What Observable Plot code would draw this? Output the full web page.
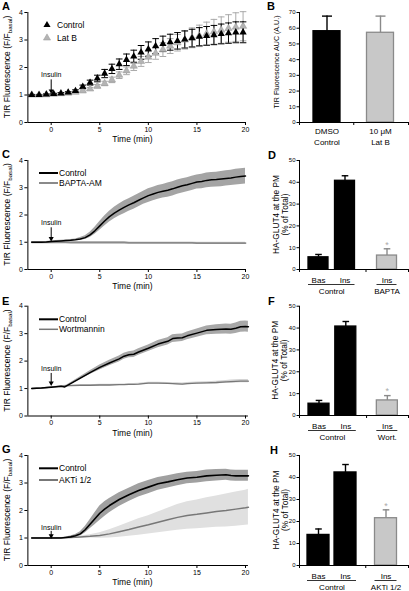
<!DOCTYPE html>
<html><head><meta charset="utf-8">
<script src="https://cdn.jsdelivr.net/npm/d3@7"></script>
<script src="https://cdn.jsdelivr.net/npm/@observablehq/plot@0.6"></script>
<style>
html,body{margin:0;padding:0;background:#fff;}
#fig{position:relative;width:409px;height:591px;overflow:hidden;font-family:"Liberation Sans",Arial,sans-serif;}
#fig svg{position:absolute;overflow:visible;}
.letter{position:absolute;font:bold 11px "Liberation Sans",Arial,sans-serif;line-height:11px;}
</style></head><body><div id="fig"></div>
<script>
// ---------- DATA ----------
// Panel A: Control vs Lat B (triangles with SE bars)
const aTime = [-2,-1.25,-0.5,0.25,1,1.75,2.5,3.25,4,4.75,5.5,6.25,7,7.75,8.5,9.25,10,10.75,11.5,12.25,13,13.75,14.5,15.25,16,16.75,17.5,18.25,19,19.75];
const aControl = [1.0,1.0,1.02,1.04,1.06,1.09,1.15,1.3,1.45,1.6,1.78,1.95,2.12,2.28,2.4,2.55,2.67,2.78,2.86,2.92,2.97,3.02,3.07,3.12,3.15,3.18,3.22,3.25,3.28,3.28];
const aControlSE = [0.02,0.02,0.02,0.02,0.03,0.03,0.04,0.06,0.09,0.12,0.15,0.17,0.19,0.21,0.23,0.25,0.26,0.27,0.28,0.29,0.3,0.31,0.32,0.33,0.34,0.35,0.36,0.37,0.38,0.38];
const aLatB = [1.0,1.0,1.01,1.03,1.05,1.07,1.1,1.15,1.22,1.32,1.42,1.55,1.72,1.88,2.05,2.22,2.38,2.52,2.65,2.78,2.9,3.0,3.08,3.15,3.23,3.3,3.36,3.42,3.47,3.5];
const aLatBSE = [0.02,0.02,0.02,0.02,0.03,0.03,0.04,0.04,0.05,0.06,0.08,0.1,0.12,0.14,0.16,0.18,0.2,0.22,0.25,0.27,0.3,0.33,0.36,0.39,0.42,0.45,0.48,0.5,0.52,0.53];

// Panel B: AUC
const bLabels = ["DMSO\nControl", "10 \u03bcM\nLat B"];
const bGroups = ["Control", "Lat B"];
const bValues = [58.1, 57.1];
const bErr = [9.6, 10.6];
const bStars = [false, false];
const bTicks = [0,10,20,30,40,50,60,70];

// Panel C: Control vs BAPTA-AM
const cTime = [-2,-1.5,-1,-0.5,0,0.5,1,1.5,2,2.5,3,3.5,4,4.5,5,5.5,6,6.5,7,7.5,8,8.5,9,9.5,10,10.5,11,11.5,12,12.5,13,13.5,14,14.5,15,15.5,16,16.5,17,17.5,18,18.5,19,19.5,20];
const cControl = [1.0,1.0,1.0,1.01,1.03,1.04,1.05,1.06,1.07,1.09,1.12,1.17,1.27,1.42,1.6,1.78,1.94,2.07,2.18,2.28,2.37,2.45,2.54,2.63,2.71,2.77,2.83,2.87,2.91,2.96,3.02,3.07,3.11,3.16,3.21,3.23,3.27,3.29,3.30,3.32,3.34,3.36,3.39,3.41,3.43];
const cControlSE = [0.02,0.02,0.02,0.02,0.02,0.02,0.02,0.02,0.03,0.03,0.05,0.07,0.1,0.13,0.16,0.18,0.2,0.21,0.22,0.23,0.23,0.24,0.24,0.24,0.25,0.25,0.25,0.25,0.26,0.26,0.26,0.26,0.26,0.26,0.26,0.27,0.27,0.27,0.27,0.28,0.28,0.28,0.29,0.29,0.29];
const cBapta = [1.0,1.0,1.0,1.0,1.0,1.0,1.0,1.0,0.99,0.99,0.99,0.99,0.99,0.99,0.99,0.99,0.99,0.99,0.99,0.99,0.98,0.98,0.98,0.98,0.98,0.98,0.98,0.98,0.98,0.98,0.98,0.98,0.98,0.98,0.97,0.97,0.97,0.97,0.97,0.97,0.97,0.97,0.97,0.97,0.97];
const cBaptaSE = [0.02,0.02,0.02,0.02,0.02,0.02,0.02,0.03,0.03,0.03,0.03,0.03,0.03,0.03,0.03,0.03,0.03,0.03,0.03,0.03,0.03,0.03,0.03,0.03,0.03,0.03,0.03,0.03,0.03,0.03,0.03,0.03,0.03,0.03,0.03,0.03,0.03,0.03,0.03,0.03,0.03,0.03,0.03,0.03,0.03];

// Panel D
const dLabels = ["Bas","Ins","Ins"];
const dGroups = ["Control","Control","BAPTA"];
const dValues = [5.6, 40.7, 6.4];
const dErr = [1.3, 2.3, 3.1];
const dStars = [false, false, true];
const pctTicks = [0,10,20,30,40,50];

// Panel E: Control vs Wortmannin
const eTime = [-2,-1,0,1,1.4,2,3,4,5,6,7,7.5,8,8.5,9,10,11,12,12.5,13,13.5,14,15,16,17,18,18.5,19,19.5,20,20.3];
const eControl = [1.0,1.02,1.05,1.08,1.06,1.18,1.38,1.58,1.77,1.93,2.08,2.18,2.23,2.25,2.33,2.47,2.62,2.72,2.82,2.84,2.85,2.92,3.02,3.12,3.15,3.17,3.16,3.2,3.25,3.26,3.25];
const eControlSE = [0.01,0.01,0.01,0.01,0.02,0.03,0.05,0.07,0.09,0.1,0.11,0.11,0.11,0.12,0.12,0.12,0.13,0.13,0.14,0.14,0.14,0.14,0.15,0.16,0.17,0.18,0.18,0.19,0.2,0.2,0.2];
const eWort = [1.0,1.02,1.05,1.08,1.1,1.11,1.12,1.12,1.13,1.13,1.14,1.14,1.15,1.15,1.16,1.2,1.2,1.19,1.18,1.17,1.16,1.18,1.2,1.21,1.22,1.24,1.25,1.26,1.27,1.27,1.27];
const eWortSE = [0.01,0.01,0.02,0.02,0.02,0.02,0.02,0.02,0.03,0.03,0.03,0.03,0.03,0.03,0.03,0.03,0.03,0.03,0.03,0.04,0.04,0.04,0.04,0.04,0.05,0.05,0.06,0.06,0.06,0.06,0.06];

// Panel F
const fLabels = ["Bas","Ins","Ins"];
const fGroups = ["Control","Control","Wort."];
const fValues = [5.4, 40.7, 6.9];
const fErr = [1.5, 2.3, 2.2];
const fStars = [false, false, true];

// Panel G: Control vs AKTi 1/2
const gTime = [-2,-1,0,1,1.5,2,2.5,3,3.5,4,4.5,5,5.5,6,7,8,9,10,11,12,13,14,15,16,17,18,18.5,19,20,20.3];
const gControl = [1.0,1.0,1.0,1.0,1.02,1.04,1.08,1.15,1.3,1.5,1.7,1.9,2.05,2.18,2.4,2.57,2.73,2.85,2.97,3.04,3.12,3.18,3.21,3.26,3.28,3.3,3.27,3.26,3.26,3.26];
const gControlSE = [0.01,0.01,0.01,0.01,0.02,0.03,0.05,0.08,0.12,0.16,0.22,0.26,0.27,0.26,0.25,0.24,0.24,0.24,0.23,0.22,0.22,0.21,0.21,0.21,0.21,0.2,0.2,0.2,0.2,0.2];
const gAktTime = [-2,-1,0,1,2,3,4,5,6,7,8,9,10,11,12,13,14,15,16,17,18,19,20,20.3];
const gAkt = [1.0,1.0,1.0,1.01,1.02,1.04,1.06,1.09,1.15,1.23,1.31,1.4,1.48,1.57,1.66,1.75,1.82,1.86,1.91,1.96,2.0,2.05,2.1,2.12];
const gAktSE = [0.01,0.01,0.01,0.01,0.02,0.03,0.06,0.1,0.15,0.2,0.25,0.3,0.33,0.38,0.42,0.47,0.5,0.52,0.55,0.57,0.6,0.62,0.64,0.65];

// Panel H
const hLabels = ["Bas","Ins","Ins"];
const hGroups = ["Control","Control","AKTi 1/2"];
const hValues = [13.9, 42.3, 21.5];
const hErr = [2.7, 3.6, 3.8];
const hStars = [false, false, true];

const timeTicks = [0,5,10,15,20];
const foldTicks = [0,1,2,3,4];
const insulinTime = [0];

// ---------- HELPERS ----------
const FONT = '"Liberation Sans", Arial, Helvetica, sans-serif';
const fig = document.getElementById("fig");
const X0 = 50.7, XU = 9.715, XMIN = -2.4;
const GRAY_FILL = "#c8c8c8", GRAY_STROKE = "#8a8a8a";
const cap = {draw(ctx, size){ const r = Math.sqrt(size/Math.PI); ctx.moveTo(-r,0); ctx.lineTo(r,0); }};

function place(svg, left, top){ svg.style.left = left+"px"; svg.style.top = top+"px"; fig.appendChild(svg); return svg; }
function txt(svg, x, y, s, o = {}){
  const size = o.size || 8;
  const t = d3.select(svg).append("text").attr("x", x).attr("y", y)
    .attr("font-family", FONT).attr("font-size", size).attr("fill", o.fill || "#000")
    .attr("text-anchor", o.anchor || "start").attr("dominant-baseline", "central");
  if (o.rotate) t.attr("transform", `rotate(-90 ${x} ${y})`);
  if (o.sub) {
    t.append("tspan").text(s);
    t.append("tspan").attr("dy", 2).attr("font-size", size*0.72).text(o.sub);
    t.append("tspan").attr("dy", -2).text(o.after || "");
  } else t.text(s);
  return t;
}
function letter(ch, x, capTop){
  const d = document.createElement("div"); d.className = "letter"; d.textContent = ch;
  d.style.left = x+"px"; d.style.top = (capTop-1.4)+"px"; fig.appendChild(d);
}
function series(time, v, se){ return time.map((t,i)=>({t, v: v[i], lo: v[i]-se[i], hi: v[i]+se[i]})); }
function insulinMarks(textY, arrowTop, arrowTip){
  return [
    Plot.text(insulinTime, {x: d=>d, y: textY, text: ()=>"Insulin", fontSize: 7, fill: "#000"}),
    Plot.ruleX(insulinTime, {x: d=>d, y1: arrowTop, y2: arrowTip, stroke: "#000", strokeWidth: 1}),
    Plot.dot(insulinTime, {x: d=>d, y: arrowTip, symbol: "triangle", rotate: 180, r: 1.9, fill: "#000"})
  ];
}

function timePanel({top, mt, ih, xmax, marks, legend}){
  const W = 250, mb = 26, right = X0 + xmax*XU;
  const svg = Plot.plot({
    width: W, height: mt+ih+mb, marginTop: mt, marginBottom: mb,
    marginLeft: X0 + XMIN*XU, marginRight: W - right,
    x: {domain: [XMIN, xmax]}, y: {domain: [0, 4]},
    style: {fontFamily: FONT, background: "none", overflow: "visible"},
    marks: [
      ...marks,
      Plot.ruleY([0], {stroke: "#000", strokeWidth: 1}),
      Plot.ruleX([XMIN], {stroke: "#000", strokeWidth: 1}),
      Plot.axisX({ticks: timeTicks, tickSize: 3, tickPadding: 1.5, fontSize: 7, label: null, tickFormat: d3.format("d")}),
      Plot.axisY({ticks: foldTicks, tickSize: 3, tickPadding: 2, fontSize: 7, label: null, tickFormat: d3.format("d")})
    ]
  });
  place(svg, 0, top);
  txt(svg, 132.5, mt+ih+17, "Time (min)", {size: 8.5, anchor: "middle"});
  txt(svg, 7, mt+ih/2, "TIR Fluorescence (F/F", {size: 8.5, anchor: "middle", rotate: true, sub: "basal", after: ")"});
  const g = d3.select(svg).append("g");
  legend.forEach((it) => {
    const y = it.y;
    if (it.symbol) {
      g.append("path").attr("d", d3.symbol(d3.symbolTriangle, 22)()).attr("transform", `translate(47,${y})`)
        .attr("fill", it.color).attr("stroke", it.stroke || "none").attr("stroke-width", 0.5);
      txt(svg, 57, y, it.label, {size: 8.5});
    } else {
      g.append("line").attr("x1", 39).attr("x2", 58).attr("y1", y).attr("y2", y)
        .attr("stroke", it.color).attr("stroke-width", it.width);
      txt(svg, 59, y, it.label, {size: 8.5});
    }
  });
  return svg;
}

function barPanel({top, mt, ih, yTicks, labels, groups, values, errs, stars, unit, firstPx, barPx, gap, capR, twoLine, ylab}){
  const pos = [];
  labels.forEach((l,i)=>{ pos.push(i===0 ? 0 : pos[i-1] + 1 + (groups[i]!==groups[i-1] ? gap : 0)); });
  const data = labels.map((label,i)=>({label, group: groups[i], value: values[i], err: errs[i], star: stars[i], pos: pos[i], ctrl: groups[i]==="Control"}));
  const hw = barPx/2/unit;
  const xmin = (299-firstPx)/unit, xmax = (408-firstPx)/unit;
  const bounds = [];
  for (let i=1;i<data.length;i++) if (groups[i]!==groups[i-1]) bounds.push((pos[i]+pos[i-1])/2);
  const gdata = [...new Set(groups)].map(g=>{ const ps = data.filter(d=>d.group===g).map(d=>d.pos); return {g, x1: d3.min(ps)-hw, x2: d3.max(ps)+hw, xc: (d3.min(ps)+d3.max(ps))/2}; });
  const col = d=>d.ctrl ? "#000" : GRAY_STROKE;
  const marks = [
    Plot.rectY(data, {x1: d=>d.pos-hw, x2: d=>d.pos+hw, y1: 0, y2: "value", fill: d=>d.ctrl ? "#000" : GRAY_FILL, stroke: col, strokeWidth: 1.3}),
    Plot.ruleX(data, {x: "pos", y1: "value", y2: d=>d.value+d.err, stroke: col, strokeWidth: 1.4}),
    Plot.dot(data, {x: "pos", y: d=>d.value+d.err, symbol: cap, r: capR, stroke: col, strokeWidth: 1.4}),
    Plot.text(data.filter(d=>d.star), {x: "pos", y: d=>d.value+d.err, text: ()=>"*", dy: -4, fontSize: 9, fill: "#aaa"}),
    Plot.ruleY([0], {stroke: "#000", strokeWidth: 1}),
    Plot.ruleX([xmin], {stroke: "#000", strokeWidth: 1}),
    Plot.axisY({ticks: yTicks, tickSize: 2.5, tickPadding: 1.5, fontSize: 6, label: null, tickFormat: d3.format("d")}),
    Plot.axisX({ticks: [xmin, ...bounds, xmax], tickSize: 3, tickFormat: ()=>"", label: null})
  ];
  if (twoLine) {
    marks.push(Plot.text(data, {x: "pos", y: 0, text: "label", dy: 13.5, lineAnchor: "middle", lineHeight: 1.4, fontSize: 8}));
  } else {
    marks.push(
      Plot.text(data, {x: "pos", y: 0, text: "label", dy: 10.5, fontSize: 8}),
      Plot.ruleY(gdata, {x1: "x1", x2: "x2", y: 0, dy: 15, stroke: "#000", strokeWidth: 0.8}),
      Plot.text(gdata, {x: "xc", y: 0, text: "g", dy: 21.5, fontSize: 8})
    );
  }
  const svg = Plot.plot({
    width: 149, height: mt+ih+30, marginTop: mt, marginBottom: 30, marginLeft: 39, marginRight: 1,
    x: {domain: [xmin, xmax]}, y: {domain: [0, yTicks[yTicks.length-1]]},
    style: {fontFamily: FONT, background: "none", overflow: "visible"},
    marks
  });
  place(svg, 260, top);
  if (ylab.length === 1) txt(svg, 17, mt+ih/2 - 5, ylab[0], {size: 7.1, anchor: "middle", rotate: true});
  else { txt(svg, 15.5, mt+ih/2, ylab[0], {size: 8.3, anchor: "middle", rotate: true}); txt(svg, 24.5, mt+ih/2, ylab[1], {size: 8.3, anchor: "middle", rotate: true}); }
  return svg;
}

// ---------- PANELS ----------
const aData = aTime.map((t,i)=>({t, c: aControl[i], cse: aControlSE[i], l: aLatB[i], lse: aLatBSE[i]}));
timePanel({top: 0, mt: 12, ih: 110, xmax: 20, legend: [
    {symbol: true, color: "#000", label: "Control", y: 25},
    {symbol: true, color: "#b4b4b4", stroke: "#999", label: "Lat B", y: 38}],
  marks: [
    Plot.ruleX(aData, {x: "t", y1: d=>d.l-d.lse, y2: d=>d.l+d.lse, stroke: "#aaa", strokeWidth: 1}),
    Plot.dot(aData, {x: "t", y: d=>d.l+d.lse, symbol: cap, r: 3.3, stroke: "#aaa", strokeWidth: 1}),
    Plot.dot(aData, {x: "t", y: d=>d.l-d.lse, symbol: cap, r: 3.3, stroke: "#aaa", strokeWidth: 1}),
    Plot.ruleX(aData, {x: "t", y1: d=>d.c-d.cse, y2: d=>d.c+d.cse, stroke: "#000", strokeWidth: 1}),
    Plot.dot(aData, {x: "t", y: d=>d.c+d.cse, symbol: cap, r: 3.3, stroke: "#000", strokeWidth: 1}),
    Plot.dot(aData, {x: "t", y: d=>d.c-d.cse, symbol: cap, r: 3.3, stroke: "#000", strokeWidth: 1}),
    Plot.dot(aData, {x: "t", y: "l", symbol: "triangle", r: 2.7, fill: "#b4b4b4", stroke: "#999", strokeWidth: 0.5}),
    Plot.dot(aData, {x: "t", y: "c", symbol: "triangle", r: 2.7, fill: "#000"}),
    ...insulinMarks(1.72, 1.55, 1.15)
  ]});

const cC = series(cTime, cControl, cControlSE), cB = series(cTime, cBapta, cBaptaSE);
timePanel({top: 148, mt: 12, ih: 109, xmax: 20, legend: [
    {color: "#000", width: 2, label: "Control", y: 25},
    {color: "#8a8a8a", width: 2, label: "BAPTA-AM", y: 35}],
  marks: [
    Plot.areaY(cB, {x: "t", y1: "lo", y2: "hi", fill: "#d0d0d0"}),
    Plot.areaY(cC, {x: "t", y1: "lo", y2: "hi", fill: "#a4a4a4"}),
    Plot.line(cB, {x: "t", y: "v", stroke: "#8a8a8a", strokeWidth: 1.8}),
    Plot.line(cC, {x: "t", y: "v", stroke: "#000", strokeWidth: 1.5}),
    ...insulinMarks(1.7, 1.53, 1.14)
  ]});

const eC = series(eTime, eControl, eControlSE), eW = series(eTime, eWort, eWortSE);
timePanel({top: 294, mt: 11.7, ih: 109.8, xmax: 20.3, legend: [
    {color: "#000", width: 2, label: "Control", y: 25.3},
    {color: "#777", width: 1.5, label: "Wortmannin", y: 35.3}],
  marks: [
    Plot.areaY(eW, {x: "t", y1: "lo", y2: "hi", fill: "#d4d4d4"}),
    Plot.areaY(eC, {x: "t", y1: "lo", y2: "hi", fill: "#a8a8a8"}),
    Plot.line(eW, {x: "t", y: "v", stroke: "#777", strokeWidth: 1.3}),
    Plot.line(eC, {x: "t", y: "v", stroke: "#000", strokeWidth: 1.5}),
    ...insulinMarks(1.72, 1.55, 1.2)
  ]});

const gC = series(gTime, gControl, gControlSE), gA = series(gAktTime, gAkt, gAktSE);
timePanel({top: 443, mt: 12, ih: 110, xmax: 20.3, legend: [
    {color: "#000", width: 2, label: "Control", y: 25.3},
    {color: "#777", width: 2, label: "AKTi 1/2", y: 37}],
  marks: [
    Plot.areaY(gA, {x: "t", y1: "lo", y2: "hi", fill: "#e0e0e0"}),
    Plot.areaY(gC, {x: "t", y1: "lo", y2: "hi", fill: "#a0a0a0"}),
    Plot.line(gA, {x: "t", y: "v", stroke: "#777", strokeWidth: 1.5}),
    Plot.line(gC, {x: "t", y: "v", stroke: "#000", strokeWidth: 1.6}),
    ...insulinMarks(1.36, 1.24, 1.08)
  ]});

barPanel({top: 0, mt: 12, ih: 110, yTicks: bTicks, labels: bLabels, groups: bGroups, values: bValues, errs: bErr, stars: bStars,
  unit: 53.5, firstPx: 326.5, barPx: 27, gap: 0, capR: 5, twoLine: true, ylab: ["TIR Fluorescence AUC (A.U.)"]});
barPanel({top: 148, mt: 12, ih: 109, yTicks: pctTicks, labels: dLabels, groups: dGroups, values: dValues, errs: dErr, stars: dStars,
  unit: 26.5, firstPx: 318, barPx: 20, gap: 0.585, capR: 3.3, ylab: ["HA-GLUT4 at the PM", "(% of Total)"]});
barPanel({top: 294, mt: 11.7, ih: 109.3, yTicks: pctTicks, labels: fLabels, groups: fGroups, values: fValues, errs: fErr, stars: fStars,
  unit: 26.8, firstPx: 318.5, barPx: 21, gap: 0.55, capR: 3.3, ylab: ["HA-GLUT4 at the PM", "(% of Total)"]});
barPanel({top: 443, mt: 12, ih: 110, yTicks: pctTicks, labels: hLabels, groups: hGroups, values: hValues, errs: hErr, stars: hStars,
  unit: 27, firstPx: 318, barPx: 22, gap: 0.5, capR: 3.3, ylab: ["HA-GLUT4 at the PM", "(% of Total)"]});

letter("A", 2, 2); letter("B", 267, 2);
letter("C", 2, 150); letter("D", 268, 151);
letter("E", 2, 297); letter("F", 268, 297);
letter("G", 2, 445); letter("H", 270, 446);
</script></body></html>
